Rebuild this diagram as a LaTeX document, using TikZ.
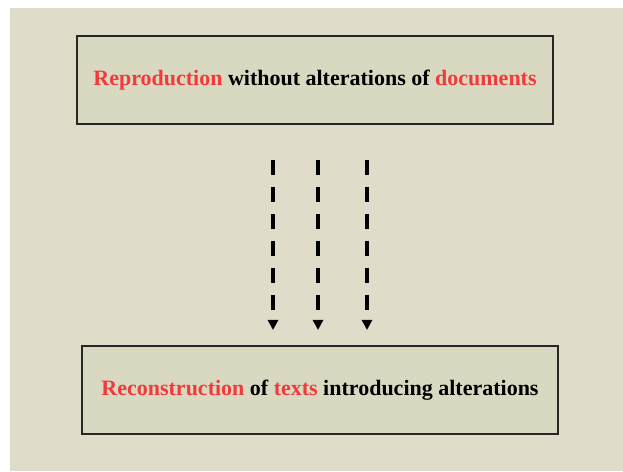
\documentclass[tikz,border=0pt]{standalone}
\usepackage{fontspec}
\setmainfont{Liberation Serif}
\usetikzlibrary{arrows.meta}
\definecolor{paper}{HTML}{DFDDCA}
\definecolor{boxfill}{HTML}{D9D9C1}
\definecolor{hilite}{HTML}{F23A3A}
\newcommand{\hl}[1]{\textcolor{hilite}{#1}}
\begin{document}
\begin{tikzpicture}[x=1pt,y=1pt,
    stage/.style ={rectangle, draw=black!85, line width=1.2pt, fill=boxfill,
      minimum width=476pt, minimum height=88pt, inner sep=0pt,
      font=\fontsize{22}{26}\selectfont\bfseries},
    flow/.style ={line width=3.5pt, dash pattern=on 15pt off 12pt,
      -{Triangle[width=10pt,length=10pt]}}]
   \useasboundingbox (0,0) rectangle (623,471);
   \fill[paper] (10,0) rectangle (623,463);
   \node[stage] (reprod) at (315,391) {\hl{Reproduction} without alterations of \hl{documents}};
   \node[stage] (recons) at (320,81) {\hl{Reconstruction} of \hl{texts} introducing alterations};
   \coordinate (s1) at (273,311);
   \coordinate (s2) at (318,311);
   \coordinate (s3) at (367,311);
   \coordinate (e1) at (273,141);
   \coordinate (e2) at (318,141);
   \coordinate (e3) at (367,141);
   \draw[flow] (s1) to  (e1);
   \draw[flow] (s2) to  (e2);
   \draw[flow] (s3) to  (e3);
 \end{tikzpicture}
\end{document}
